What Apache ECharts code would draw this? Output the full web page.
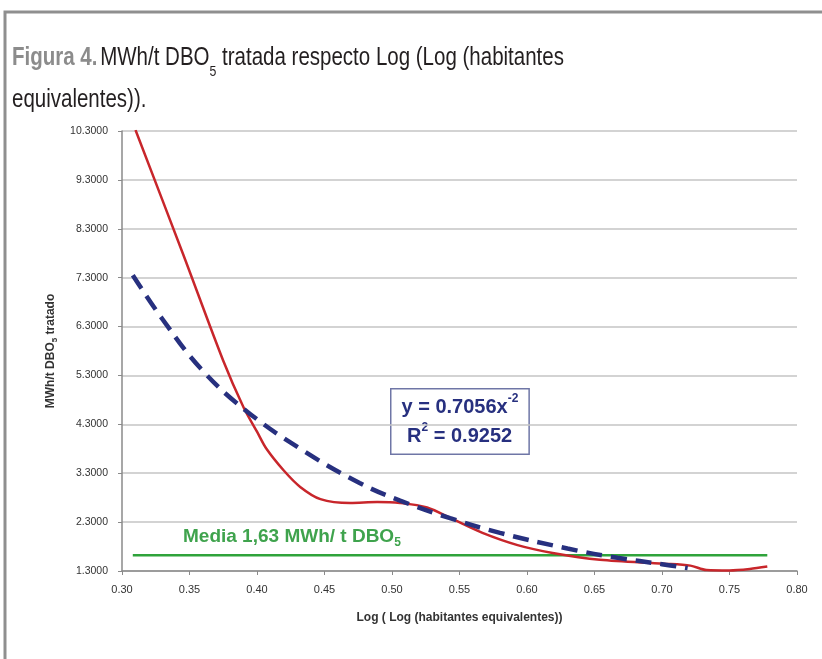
<!DOCTYPE html>
<html>
<head>
<meta charset="utf-8">
<script src="https://cdn.jsdelivr.net/npm/echarts@6/dist/echarts.min.js"></script>
<style>
  html, body { margin: 0; padding: 0; background: #fff; }
  #chart { width: 822px; height: 659px; }
</style>
</head>
<body>
<div id="chart"></div>
<script>
// log(log(habitantes equivalentes)) vs MWh/t DBO5
const observed = [
  [0.310, 10.32], [0.345, 7.80], [0.375, 5.60], [0.390, 4.65], [0.400, 4.15],
  [0.407, 3.80], [0.420, 3.35], [0.432, 3.02], [0.447, 2.77], [0.469, 2.69],
  [0.489, 2.71], [0.506, 2.69], [0.526, 2.60], [0.545, 2.36], [0.567, 2.08],
  [0.593, 1.83], [0.619, 1.67], [0.654, 1.53], [0.701, 1.45], [0.721, 1.41],
  [0.733, 1.32], [0.750, 1.31], [0.765, 1.34], [0.778, 1.39]
];

// potential trend line as drawn
const trend = [
  [0.308, 7.35], [0.330, 6.45], [0.358, 5.45], [0.390, 4.62], [0.432, 3.80],
  [0.476, 3.10], [0.506, 2.74], [0.543, 2.38], [0.580, 2.08], [0.630, 1.76],
  [0.667, 1.57], [0.700, 1.44], [0.719, 1.36]
];

const media = [[0.308, 1.62], [0.778, 1.62]];

const xTicks = { min: 0.30, max: 0.80, step: 0.05 };
const yTicks = { min: 1.3, max: 10.3, step: 1 };

const chart = echarts.init(document.getElementById('chart'));

const sans = '"Liberation Sans", Arial, sans-serif';
const navy = '#27307f';

const option = {
  backgroundColor: '#fff',
  animation: false,
  grid: { left: 122, right: 25, top: 131, bottom: 88 },
  xAxis: {
    type: 'value',
    min: xTicks.min,
    max: xTicks.max,
    interval: xTicks.step,
    name: 'Log ( Log (habitantes equivalentes))',
    nameLocation: 'middle',
    nameGap: 41,
    nameTextStyle: { fontFamily: sans, fontSize: 12, fontWeight: 'bold', color: '#333' },
    axisLine: { lineStyle: { color: '#8a8a8a', width: 1.5 } },
    axisTick: { show: true, length: 4, lineStyle: { color: '#8a8a8a' } },
    axisLabel: {
      formatter: v => v.toFixed(2),
      fontFamily: sans, fontSize: 11, color: '#333', margin: 13
    },
    splitLine: { show: false }
  },
  yAxis: {
    type: 'value',
    min: yTicks.min,
    max: yTicks.max,
    interval: yTicks.step,
    name: '{n|MWh/t DBO}{s|5}{n| tratado}',
    nameLocation: 'middle',
    nameRotate: 90,
    nameGap: 52,
    nameTextStyle: {
      rich: {
        n: { fontFamily: sans, fontSize: 12, fontWeight: 'bold', color: '#333', lineHeight: 16 },
        s: { fontFamily: sans, fontSize: 8, fontWeight: 'bold', color: '#333', lineHeight: 11, verticalAlign: 'bottom' }
      }
    },
    axisLine: { show: true, lineStyle: { color: '#8a8a8a', width: 1.5 } },
    axisTick: { show: true, length: 4, lineStyle: { color: '#8a8a8a' } },
    axisLabel: {
      formatter: v => v.toFixed(4),
      fontFamily: sans, fontSize: 10.5, color: '#333', margin: 14
    },
    splitLine: { lineStyle: { color: '#c4c4c4', width: 1.5 } }
  },
  series: [
    {
      name: 'Media',
      type: 'line',
      data: media,
      symbol: 'none',
      lineStyle: { color: '#2fa33b', width: 2.5 },
      z: 2
    },
    {
      name: 'MWh/t DBO5',
      type: 'line',
      data: observed,
      symbol: 'none',
      smooth: 0.3,
      lineStyle: { color: '#c8262b', width: 2.5 },
      z: 3
    },
    {
      name: 'Tendencia',
      type: 'line',
      data: trend,
      symbol: 'none',
      smooth: 0.4,
      lineStyle: { color: navy, width: 4.5, type: [16, 9] },
      z: 4
    }
  ],
  graphic: [
    {
      type: 'rect',
      shape: { x: 5, y: 12, width: 900, height: 900 },
      style: { fill: 'none', stroke: '#8f8f8f', lineWidth: 3 },
      silent: true
    },
    {
      type: 'text',
      x: 12,
      y: 37,
      scaleX: 0.82,
      style: {
        text: '{b|Figura 4.} {n|MWh/t DBO}{s|5}{n| tratada respecto Log (Log (habitantes}\n{n|equivalentes)).}',
        rich: {
          b: { fontFamily: sans, fontSize: 25, fontWeight: 'bold', fill: '#8c8c8c', lineHeight: 42 },
          n: { fontFamily: sans, fontSize: 25, fill: '#231f20', lineHeight: 42 },
          s: { fontFamily: sans, fontSize: 15, fill: '#231f20', lineHeight: 26, verticalAlign: 'bottom' }
        }
      }
    },
    {
      type: 'text',
      left: 183,
      top: 527,
      style: {
        text: '{g|Media 1,63 MWh/ t DBO}{gs|5}',
        rich: {
          g: { fontFamily: sans, fontSize: 19, fontWeight: 'bold', fill: '#3fa34d', lineHeight: 24 },
          gs: { fontFamily: sans, fontSize: 12, fontWeight: 'bold', fill: '#3fa34d', lineHeight: 15, verticalAlign: 'bottom' }
        }
      }
    },
    {
      type: 'text',
      left: 390,
      top: 388,
      style: {
        text: '{e|y = 0.7056x}{p|-2}\n{e| R}{p|2}{e| = 0.9252}',
        backgroundColor: '#fff',
        borderColor: '#6f76a6',
        borderWidth: 1.5,
        padding: [3, 10, 3, 10],
        rich: {
          e: { fontFamily: sans, fontSize: 20, fontWeight: 'bold', fill: navy, lineHeight: 29 },
          p: { fontFamily: sans, fontSize: 12, fontWeight: 'bold', fill: navy, lineHeight: 20, verticalAlign: 'top' }
        }
      }
    }
  ]
};

chart.setOption(option);
</script>
</body>
</html>
